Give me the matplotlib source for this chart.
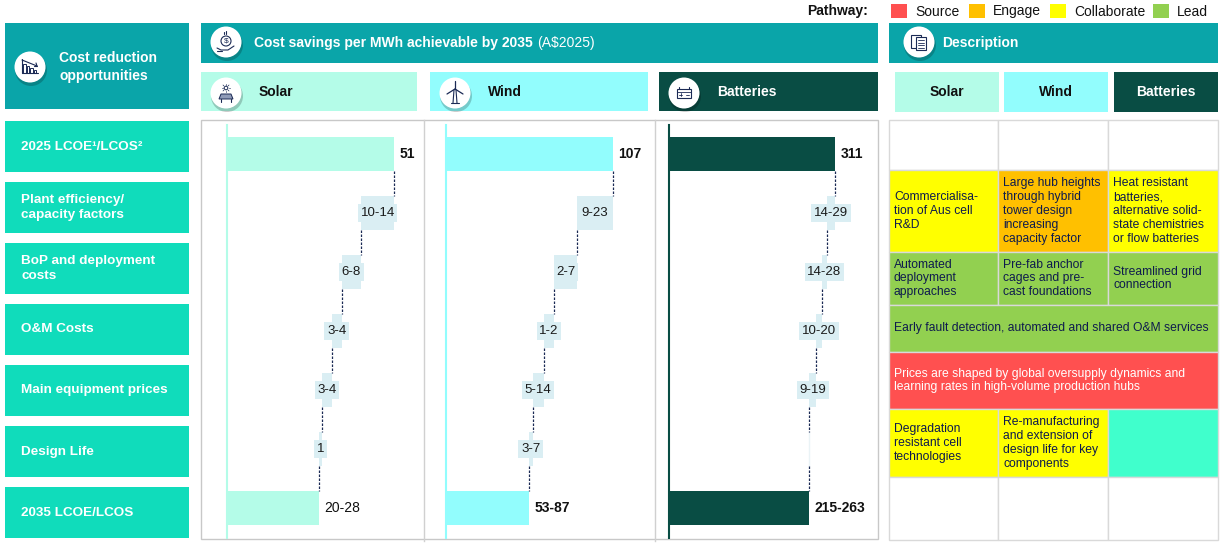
import matplotlib
matplotlib.use("Agg")
import matplotlib.pyplot as plt
from matplotlib.patches import Rectangle, Circle, Polygon

# ---------------- data ----------------
row_labels = ["2025 LCOE\u00b9/LCOS\u00b2", "Plant efficiency/\ncapacity factors",
              "BoP and deployment\ncosts", "O&M Costs", "Main equipment prices",
              "Design Life", "2035 LCOE/LCOS"]
techs = ["Solar", "Wind", "Batteries"]
start_values = [51, 107, 311]
# savings ranges shown as labels
step_low = [[10, 6, 3, 3, 1], [9, 2, 1, 5, 3], [14, 14, 10, 9, 0]]
step_high = [[14, 8, 4, 4, 1], [23, 7, 2, 14, 7], [29, 28, 20, 19, 0]]
# widths of the floating step bars as drawn in the chart
step_bar = [[10, 6, 3, 3, 1], [23, 14.5, 7, 7, 2.5], [15, 10, 10, 13, 0]]
end_low = [20, 53, 215]
end_high = [28, 87, 263]
end_bold = [False, True, True]
pathways = ["Source", "Engage", "Collaborate", "Lead"]
pathway_colors = ["#ff5050", "#ffc000", "#ffff00", "#92d050"]

desc_rows = [
    [("", "white"), ("", "white"), ("", "white")],
    [("Commercialisa-\ntion of Aus cell\nR&D", "Collaborate"),
     ("Large hub heights\nthrough hybrid\ntower design\nincreasing\ncapacity factor", "Engage"),
     ("Heat resistant\nbatteries,\nalternative solid-\nstate chemistries\nor flow batteries", "Collaborate")],
    [("Automated\ndeployment\napproaches", "Lead"),
     ("Pre-fab anchor\ncages and pre-\ncast foundations", "Lead"),
     ("Streamlined grid\nconnection", "Lead")],
    [("Early fault detection, automated and shared O&M services", "Lead")],
    [("Prices are shaped by global oversupply dynamics and\nlearning rates in high-volume production hubs", "Source")],
    [("Degradation\nresistant cell\ntechnologies", "Collaborate"),
     ("Re-manufacturing\nand extension of\ndesign life for key\ncomponents", "Collaborate"),
     ("", "na")],
    [("", "white"), ("", "white"), ("", "white")],
]

# ---------------- style ----------------
W, H = 1223, 545
plt.rcParams['font.family'] = ['Liberation Sans', 'DejaVu Sans']

TEAL = "#0aa5a9"
ROWC = "#10dcbb"
TECH_BG = ["#b4fce8", "#92fdfd", "#094d44"]
TECH_FG = ["#111111", "#111111", "white"]
STEP = "#daeef3"
NAVY = "#1b2a55"
TXT = "#0e1b4d"
GRID = "#d9d9d9"
HDR_FS = 10
cmap = dict(zip(pathways, pathway_colors))
cmap["white"] = "white"
cmap["na"] = "#40ffcc"

fig = plt.figure(figsize=(W / 100, H / 100), dpi=100)
bg = fig.add_axes([0, 0, 1, 1])
bg.set_xlim(0, W)
bg.set_ylim(H, 0)
bg.axis('off')


def rect(x0, y0, x1, y1, fc, ec='none', lw=0, z=1):
    bg.add_patch(Rectangle((x0, y0), x1 - x0, y1 - y0, facecolor=fc, edgecolor=ec, linewidth=lw, zorder=z))


def icon_base(cx, cy, r=15.5):
    bg.add_patch(Circle((cx + 1, cy + 3), r + 0.5, facecolor='black', alpha=0.2, zorder=5, linewidth=0))
    bg.add_patch(Circle((cx, cy), r, facecolor='white', edgecolor='none', zorder=6))


def line(xs, ys, lw=0.8, c=NAVY):
    bg.plot(xs, ys, color=c, lw=lw, zorder=7, solid_capstyle='round')


def icon_chart(cx, cy):
    icon_base(cx, cy)
    for i, h in enumerate([9, 7, 5, 3]):
        bg.add_patch(Rectangle((cx - 7 + i * 3.5, cy + 6 - h), 2.5, h, facecolor='none', edgecolor=NAVY, lw=0.7, zorder=7))
    line([cx - 8, cx + 7], [cy - 7, cy - 1])
    line([cx + 7, cx + 4], [cy - 1, cy - 1])
    line([cx + 7, cx + 6], [cy - 1, cy - 4])
    line([cx - 8, cx - 8, cx + 8], [cy - 8, cy + 6, cy + 6])


def icon_money(cx, cy):
    icon_base(cx, cy)
    bg.add_patch(Circle((cx, cy - 1), 5, facecolor='none', edgecolor=NAVY, lw=0.8, zorder=7))
    bg.text(cx, cy - 1, "$", fontsize=6, color=NAVY, ha='center', va='center', zorder=8)
    line([cx - 9, cx - 5, cx + 2, cx + 8], [cy + 6, cy + 8, cy + 8, cy + 4])
    line([cx - 9, cx - 4], [cy + 9, cy + 9])
    line([cx, cx], [cy - 11, cy - 8])
    line([cx - 2, cx - 2], [cy - 10, cy - 8])


def icon_solar(cx, cy):
    icon_base(cx, cy)
    bg.add_patch(Circle((cx, cy - 5), 1.8, facecolor='none', edgecolor=NAVY, lw=0.7, zorder=7))
    for dx, dy in [(0, -4), (0, 4), (-4, 0), (4, 0), (-3, -3), (3, 3), (-3, 3), (3, -3)]:
        line([cx + dx * 0.7, cx + dx], [cy - 5 + dy * 0.7, cy - 5 + dy], lw=0.5)
    bg.add_patch(Polygon([(cx - 5, cy + 1), (cx + 5, cy + 1), (cx + 7, cy + 6), (cx - 7, cy + 6)],
                         closed=True, facecolor='#8f9bb8', edgecolor=NAVY, lw=0.7, zorder=7))
    line([cx - 5, cx - 5], [cy + 6, cy + 9])
    line([cx + 5, cx + 5], [cy + 6, cy + 9])


def icon_wind(cx, cy):
    icon_base(cx, cy)
    line([cx - 1, cx - 2], [cy - 3, cy + 10])
    line([cx + 1, cx + 2], [cy - 3, cy + 10])
    line([cx, cx], [cy - 4, cy - 12], lw=0.9)
    line([cx, cx - 8], [cy - 4, cy + 1], lw=0.9)
    line([cx, cx + 8], [cy - 4, cy + 1], lw=0.9)
    line([cx - 4, cx + 4], [cy + 10, cy + 10])


def icon_battery(cx, cy):
    icon_base(cx, cy)
    bg.add_patch(Rectangle((cx - 7, cy - 4), 14, 9, facecolor='none', edgecolor=NAVY, lw=0.8, zorder=7))
    line([cx - 7, cx + 7], [cy - 1.5, cy - 1.5], lw=0.6)
    line([cx - 5, cx - 5], [cy - 4, cy - 6])
    line([cx + 5, cx + 5], [cy - 4, cy - 6])
    line([cx - 5, cx - 2], [cy + 1.5, cy + 1.5], lw=0.6)
    line([cx - 3.5, cx - 3.5], [cy, cy + 3], lw=0.6)
    line([cx + 2, cx + 5], [cy + 1.5, cy + 1.5], lw=0.6)


def icon_doc(cx, cy):
    icon_base(cx, cy)
    bg.add_patch(Rectangle((cx - 8, cy - 7), 10, 13, facecolor='white', edgecolor=NAVY, lw=0.8, zorder=7))
    bg.add_patch(Rectangle((cx - 3, cy - 5), 10, 13, facecolor='white', edgecolor=NAVY, lw=0.8, zorder=7))
    for k in range(4):
        line([cx - 1, cx + 5], [cy - 2 + k * 2.5, cy - 2 + k * 2.5], lw=0.6)


# ---------------- legend ----------------
bg.text(807, 11.5, "Pathway:", fontsize=10, fontweight='bold', color='#111111', va='center', ha='left')
leg_x = [891, 969, 1050, 1153]
for x, name, col in zip(leg_x, pathways, pathway_colors):
    rect(x, 4, x + 16, 18, col)
    bg.text(x + 24, 11.5, name, fontsize=10, color='#111111', va='center', ha='left')

# ---------------- left column ----------------
rect(5, 23, 189, 109, TEAL)
icon_chart(30, 67)
bg.text(59, 67, "Cost reduction\nopportunities", fontsize=HDR_FS, fontweight='bold', color='white',
        va='center', ha='left', linespacing=1.3)
for i, lab in enumerate(row_labels):
    y0 = 121 + 61 * i
    rect(5, y0, 189, y0 + 51, ROWC)
    bg.text(21, y0 + 25.5, lab, fontsize=9.7, fontweight='bold', color='white', va='center', ha='left',
            linespacing=1.32)

# ---------------- chart headers ----------------
rect(201, 23, 878, 63, TEAL)
icon_money(226, 42)
t1 = bg.text(254, 43, "Cost savings per MWh achievable by 2035", fontsize=HDR_FS, fontweight='bold',
             color='white', va='center', ha='left')
fig.canvas.draw()
bb = t1.get_window_extent(renderer=fig.canvas.get_renderer())
bg.text(bb.x1 + 4, 43, "(A$2025)", fontsize=HDR_FS, color='white', va='center', ha='left')

sub_x = [(201, 417), (430, 648), (659, 878)]
icons = [icon_solar, icon_wind, icon_battery]
for t in range(3):
    x0, x1 = sub_x[t]
    rect(x0, 72, x1, 111, TECH_BG[t])
    icons[t](x0 + 25, 93)
    bg.text(x0 + 58, 92, techs[t], fontsize=HDR_FS, fontweight='bold', color=TECH_FG[t],
            va='center', ha='left')

# chart frame
rect(201, 120, 878, 539, 'none', ec='#c8c8c8', lw=1, z=2)
for x in (424, 655):
    bg.plot([x, x], [120, 541], color='#d0d0d0', lw=1, zorder=2)

# ---------------- waterfalls ----------------
panel_x = [(201, 424), (424, 655), (655, 878)]
zero_px = [227, 446, 669]
full_px = [394, 613, 835]
ROW_C0, ROW_P = 154, 59
BAR_H = 0.58

for t in range(3):
    x0, x1 = panel_x[t]
    ax = fig.add_axes([x0 / W, 1 - 539 / H, (x1 - x0) / W, (539 - 120) / H])
    ax.patch.set_alpha(0)
    ax.axis('off')
    s = (full_px[t] - zero_px[t]) / start_values[t]
    ax.set_xlim((x0 - zero_px[t]) / s, (x1 - zero_px[t]) / s)
    ax.set_ylim((539 - ROW_C0) / ROW_P, (120 - ROW_C0) / ROW_P)

    ax.plot([0, 0], [-0.5, 6.5], color=TECH_BG[t], lw=1.5, zorder=1)
    # start bar
    ax.barh(0, start_values[t], height=BAR_H, color=TECH_BG[t], zorder=2)
    ax.annotate(str(start_values[t]), (start_values[t], 0), xytext=(4, 0), textcoords='offset points',
                fontsize=10, fontweight='bold', va='center', ha='left', color='#111111')
    cum = start_values[t]
    connectors = [cum]
    for k, (w, lo, hi) in enumerate(zip(step_bar[t], step_low[t], step_high[t])):
        r = k + 1
        if w > 0:
            ax.barh(r, w, left=cum - w, height=BAR_H, color=STEP, zorder=2)
        else:
            ax.plot([cum, cum], [r - BAR_H / 2, r + BAR_H / 2], color='#eaf3f6', lw=1, zorder=2)
        if hi > 0:
            lab = f"{lo}-{hi}" if lo != hi else f"{lo}"
            ax.text(cum - w / 2, r, lab, fontsize=9.5, ha='center', va='center', color='#1a1a1a', zorder=4,
                    bbox=dict(boxstyle='square,pad=0.2', fc=STEP, ec='none'))
        cum = cum - w
        connectors.append(cum)
    for r, xc in enumerate(connectors):
        ax.plot([xc, xc], [r + BAR_H / 2, r + 1 - BAR_H / 2], color=NAVY, lw=0.9,
                ls=(0, (2, 1.2)), zorder=3)
    # end bar
    ax.barh(6, cum, height=BAR_H, color=TECH_BG[t], zorder=2)
    ax.annotate(f"{end_low[t]}-{end_high[t]}", (cum, 6), xytext=(4, 0), textcoords='offset points',
                fontsize=10, fontweight='bold' if end_bold[t] else 'normal', va='center', ha='left',
                color='#111111')

# ---------------- description ----------------
rect(889, 23, 1218, 63, TEAL)
icon_doc(919, 42)
bg.text(942, 43, "Description", fontsize=HDR_FS, fontweight='bold', color='white', va='center', ha='left')
dx = [(895, 999), (1004, 1108), (1114, 1218)]
for t in range(3):
    a, b = dx[t]
    rect(a, 72, b, 112, TECH_BG[t])
    bg.text((a + b) / 2, 92, techs[t], fontsize=HDR_FS, fontweight='bold', color=TECH_FG[t],
            va='center', ha='center')

col_edges = [889, 998, 1108, 1218]
row_edges = [120, 170, 252, 305, 352, 409, 477, 540]
for ri, cells in enumerate(desc_rows):
    y0, y1 = row_edges[ri], row_edges[ri + 1]
    if len(cells) == 1:
        spans = [(col_edges[0], col_edges[3])]
    else:
        spans = [(col_edges[c], col_edges[c + 1]) for c in range(3)]
    for (txt, kind), (a, b) in zip(cells, spans):
        rect(a, y0, b, y1, cmap[kind], ec=GRID, lw=1, z=2)
        if txt:
            col = 'white' if kind == "Source" else TXT
            bg.text(a + 5, (y0 + y1) / 2, txt, fontsize=8.7, color=col, va='center', ha='left', zorder=3,
                    linespacing=1.22)

fig.savefig("out.png", dpi=100)
